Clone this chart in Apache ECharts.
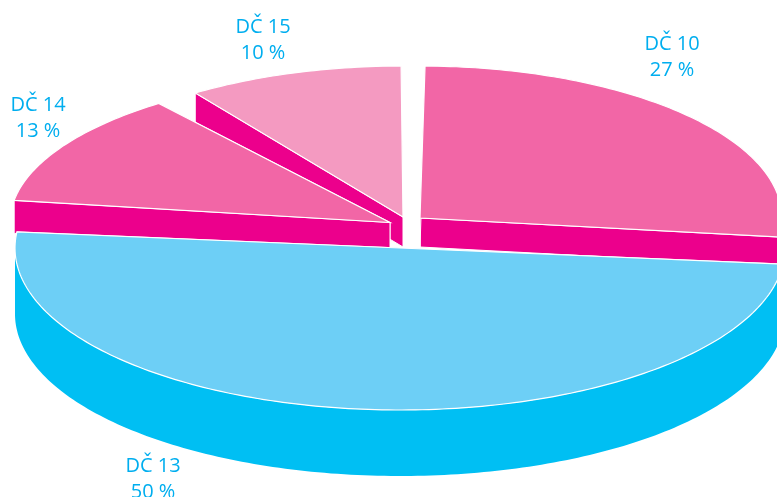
<!DOCTYPE html>
<html>
<head>
<meta charset="utf-8">
<style>html,body{margin:0;padding:0;background:#fff}#c{width:777px;height:497px}</style>
<script src="https://cdn.jsdelivr.net/npm/echarts@6/dist/echarts.min.js"></script>
</head>
<body>
<div id="c"></div>
<script>
// Data
const categories = ['DČ 10', 'DČ 13', 'DČ 14', 'DČ 15'];
const shares = [27, 50, 13, 10];

// Presentation: exploded slice placement, ellipse size, wall height, small angular tweaks (deg)
const sliceLayout = [
  { ax: 420, ay: 218, rx: 362, ry: 152, depth: 29, turn0: 0.8, turn1: 0, z: 30, top: '#F266A6', wall: '#EC008C', lx: 672, ly: 44.5 },
  { ax: 400, ay: 248, rx: 385, ry: 162, depth: 66, turn0: -1.5, turn1: -1.5, z: 40, top: '#6DCFF6', wall: '#00BFF3', lx: 153, ly: 466 },
  { ax: 390, ay: 222.5, rx: 380, ry: 150, depth: 33, turn0: 1.3, turn1: -1.5, z: 20, top: '#F266A6', wall: '#EC008C', lx: 38, ly: 105.5 },
  { ax: 403, ay: 217, rx: 364, ry: 151, depth: 30, turn0: 1.2, turn1: -0.3, z: 10, top: '#F49AC1', wall: '#EC008C', lx: 263, ly: 27 }
];
const labelColor = '#00AEEF';
const labelFont = '20px "Open Sans", "Noto Sans", sans-serif';
const lineGap = 26;

let running = 0;
const rows = shares.map((v, i) => { const r = [1, running, running + v, i]; running += v; return r; });

function renderSlice(params, api) {
  const cs = params.coordSys;
  const i = api.value(3);
  const L = sliceLayout[i];
  const RAD = Math.PI / 180;
  const tAt = v => {
    const p = api.coord([1, v]);
    return Math.atan2(p[0] - cs.cx, -(p[1] - cs.cy)) / RAD;
  };
  let t0 = tAt(api.value(1));
  if (t0 < -1e-6) t0 += 360;
  let t1 = tAt(api.value(2));
  while (t1 <= t0) t1 += 360;
  t0 += L.turn0; t1 += L.turn1;
  const pt = (t, d) => [L.ax + L.rx * Math.sin(t * RAD), L.ay - L.ry * Math.cos(t * RAD) + (d || 0)];
  const arc = (a, b, d) => {
    const out = [], n = Math.max(2, Math.ceil(Math.abs(b - a)));
    for (let k = 0; k <= n; k++) out.push(pt(a + (b - a) * k / n, d));
    return out;
  };
  const apex = [L.ax, L.ay];
  const apexLow = [L.ax, L.ay + L.depth];
  const children = [];
  const wall = (points, z2) => children.push({
    type: 'polygon', z2,
    shape: { points },
    style: { fill: L.wall, stroke: '#fff', lineWidth: 1 }
  });
  // radial walls
  wall([apex, pt(t1), pt(t1, L.depth), apexLow], L.z);
  wall([apex, pt(t0), pt(t0, L.depth), apexLow], L.z);
  // front rim
  const fa = Math.max(t0, 90), fb = Math.min(t1, 270);
  if (fb > fa) {
    children.push({
      type: 'polygon', z2: L.z + 1,
      shape: { points: arc(fa, fb, 0).concat(arc(fb, fa, L.depth)) },
      style: { fill: L.wall }
    });
  }
  // top face
  children.push({
    type: 'polygon', z2: L.z + 2,
    shape: { points: [apex].concat(arc(t0, t1, 0)) },
    style: { fill: L.top, stroke: '#fff', lineWidth: 1.2, lineJoin: 'miter' }
  });
  // label
  const value = api.value(2) - api.value(1);
  [categories[i], value + ' %'].forEach((s, k) => children.push({
    type: 'text', z2: 100,
    style: {
      x: L.lx, y: L.ly + k * lineGap, text: s,
      fill: labelColor, font: labelFont, align: 'center', verticalAlign: 'middle'
    }
  }));
  return { type: 'group', children };
}

const chart = echarts.init(document.getElementById('c'), null, { renderer: 'canvas' });
chart.setOption({
  animation: false,
  backgroundColor: '#fff',
  polar: { center: [388, 248], radius: 100 },
  angleAxis: { type: 'value', min: 0, max: 100, startAngle: 90, show: false },
  radiusAxis: { type: 'value', min: 0, max: 1, show: false },
  series: [{
    type: 'custom',
    coordinateSystem: 'polar',
    data: rows,
    encode: { radius: 0, angle: 1 },
    clip: false,
    silent: true,
    renderItem: renderSlice
  }]
});
</script>
</body>
</html>
